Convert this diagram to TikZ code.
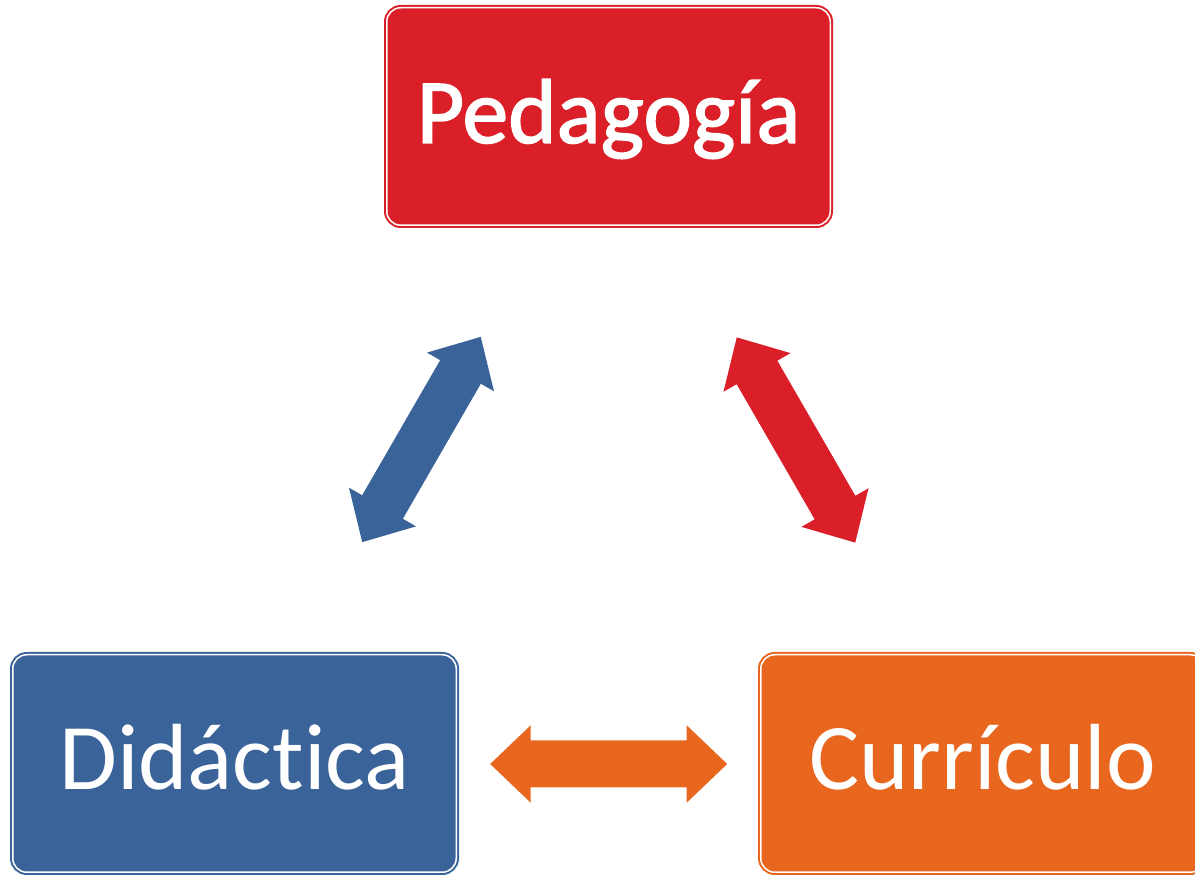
\documentclass[tikz,border=0pt]{standalone}
\usepackage{fontspec}
\setmainfont[Ligatures=NoCommon]{Carlito}
\newfontfamily\semibold[Ligatures=NoCommon,FakeBold=1.6]{Carlito}
\definecolor{pred}{HTML}{DA1F28}
\definecolor{pblue}{HTML}{3A6399}
\definecolor{porange}{HTML}{E9661E}
\tikzset{
  box/.style={draw=#1, fill=#1, double=white, double distance=0.75pt, line width=1pt,
    rounded corners=7pt, minimum width=221.75pt, minimum height=108.75pt, inner sep=0pt,
    text=white, font=\fontsize{47}{50}\selectfont, text height=30pt, text depth=3.5pt},
  dblarrow/.pic={\fill[pic actions] (-118.5,0) -- (-78,38.7) -- (-78,23.5) -- (78,23.5) -- (78,38.7)
     -- (118.5,0) -- (78,-38.7) -- (78,-23.5) -- (-78,-23.5) -- (-78,-38.7) -- cycle;}
}
\begin{document}
\begin{tikzpicture}[x=0.5pt,y=-0.5pt]
\useasboundingbox (0,0) rectangle (1195,876);
\clip (0,0) rectangle (1195,876);
\node[box=pred, font=\semibold\fontsize{46}{50}\selectfont] (ped) at (608.5,116.5) {Pedagogía};
\node[box=pblue] (did) at (234.5,763.5) {Didáctica};
\node[box=porange] (cur) at (982.5,763.5) {Currículo};
\pic[fill=pblue, rotate=60] (a1) at (421.5,439.5) {dblarrow};
\pic[fill=pred, rotate=-60] (a2) at (796,440) {dblarrow};
\pic[fill=porange] (a3) at (608.7,764) {dblarrow};
\end{tikzpicture}
\end{document}
